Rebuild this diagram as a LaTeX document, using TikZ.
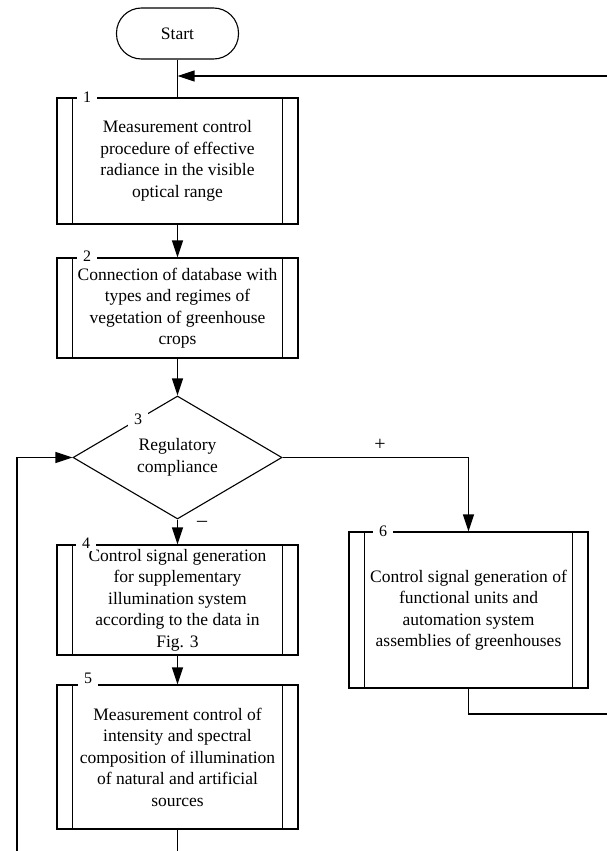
\documentclass[tikz,border=0pt]{standalone}
\usepackage{fontspec}
\setmainfont{Liberation Serif}
\usetikzlibrary{shapes.geometric,arrows.meta}
\begin{document}
\begin{tikzpicture}[x=1pt,y=-1pt,
  line width=1.1pt,
  every node/.style={font=\fontsize{17.5}{21.5}\selectfont},
  proc/.style={draw, rectangle, minimum width=241pt, align=center, inner sep=0pt},
  term/.style={draw, rectangle, rounded corners=25pt, minimum width=122pt, minimum height=51pt},
  decis/.style={draw, diamond, aspect=1.7, inner sep=0pt, minimum width=209pt, minimum height=123pt, align=center},
  lbl/.style={fill=white, inner xsep=6pt, inner ysep=3pt, font=\fontsize{16}{16}\selectfont},
  sign/.style={font=\fontsize{20}{20}\selectfont},
  arr/.style={-{Triangle[length=17pt,width=11pt]}},
]
\useasboundingbox (0,0) rectangle (607,851);

\node[term] (start) at (177.5,33.5) {Start};
\node[proc, minimum height=126pt] (b1) at (177.5,161) {Measurement control\\procedure of effective\\radiance in the visible\\optical range};
\node[proc, minimum height=100pt] (b2) at (177.5,308) {Connection of database with\\types and regimes of\\vegetation of greenhouse\\crops};
\node[decis] (d3) at (177.5,457.5) {Regulatory\\compliance};
\node[proc, minimum height=110pt] (b4) at (177.5,600) {Control signal generation\\for supplementary\\illumination system\\according to the data in\\Fig. 3};
\node[proc, minimum height=144pt] (b5) at (177.5,757) {Measurement control of\\intensity and spectral\\composition of illumination\\of natural and artificial\\sources};
\node[proc, minimum width=239pt, minimum height=156pt] (b6) at (468.5,610) {Control signal generation of\\functional units and\\automation system\\assemblies of greenhouses};

\foreach \n in {b1,b2,b4,b5,b6} {
  \draw ([xshift=16pt]\n.north west) -- ([xshift=16pt]\n.south west);
  \draw ([xshift=-16pt]\n.north east) -- ([xshift=-16pt]\n.south east);
}

\coordinate (rtop) at (607,76);
\coordinate (j1) at (177.5,76);
\coordinate (bot) at (177.5,851);
\coordinate (bl) at (17,851);
\coordinate (rb) at (607,714);

\draw (start) -- (b1);
\draw[arr] (rtop) -- (j1);
\draw[arr] (b1) -- (b2);
\draw[arr] (b2) -- (d3);
\draw[arr] (d3) -- (b4);
\draw[arr] (b4) -- (b5);
\draw (b5.south) -- (bot);
\draw[arr] (bl) |- (d3.west);
\draw[arr] (d3.east) -| (b6.north);
\draw (b6.south) |- (rb);

\node[lbl] at (87,97) {1};
\node[lbl] at (87,256) {2};
\node[lbl] at (138,419) {3};
\node[lbl] at (86,543) {4};
\node[lbl] at (88,678) {5};
\node[lbl] at (383,531) {6};
\node[sign] at (380,445) {+};
\node[sign] at (202,524) {–};
\end{tikzpicture}
\end{document}
